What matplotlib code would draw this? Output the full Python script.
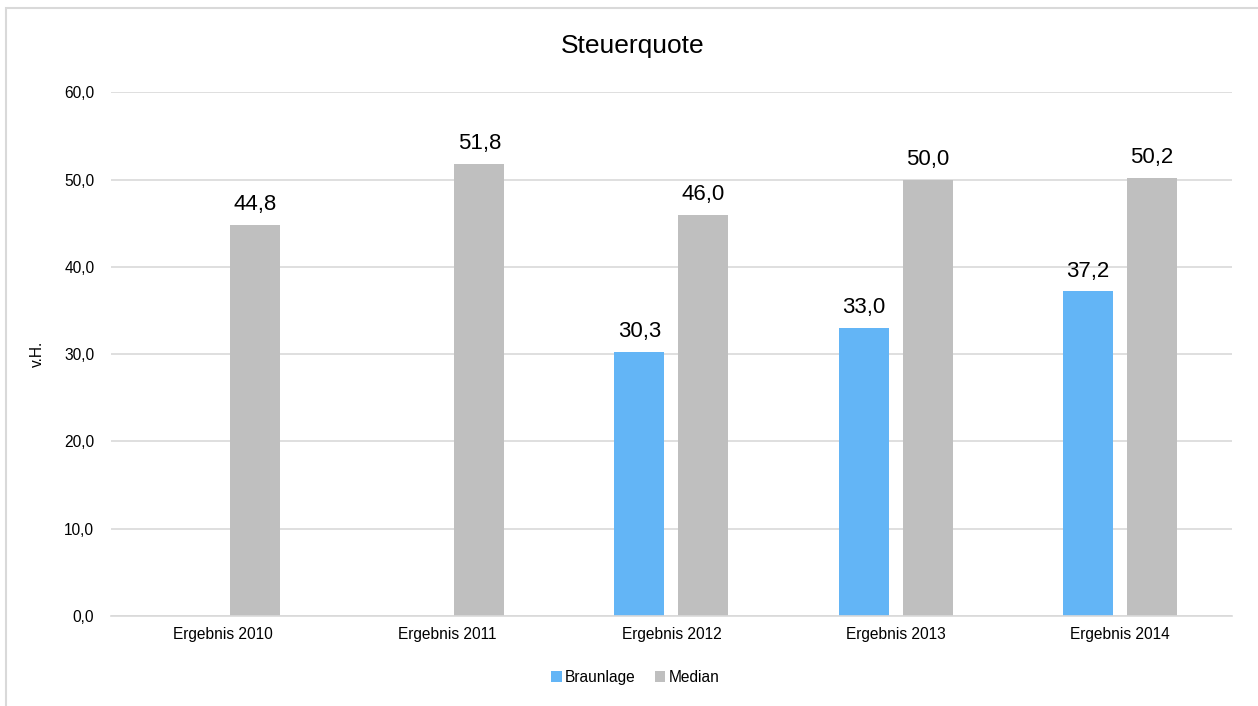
import matplotlib.pyplot as plt
import matplotlib.patches as mpatches
import numpy as np

plt.rcParams['font.family'] = ['Liberation Sans', 'DejaVu Sans']

categories = ['Ergebnis 2010', 'Ergebnis 2011', 'Ergebnis 2012', 'Ergebnis 2013', 'Ergebnis 2014']
braunlage = [np.nan, np.nan, 30.3, 33.0, 37.2]
median = [44.8, 51.8, 46.0, 50.0, 50.2]
yticks = [0, 10, 20, 30, 40, 50, 60]

blue = '#63b5f6'
gray = '#bfbfbf'

fig = plt.figure(figsize=(12.58, 7.06), dpi=100)
ax = fig.add_axes([0.0882, 0.1275, 0.891, 0.7415])

# outer frame of the chart area
fig.patches.append(mpatches.Rectangle((6 / 1258, -0.1), 1.2, 1 - 8 / 706 + 0.1,
                                      transform=fig.transFigure, fill=False,
                                      edgecolor='#d9d9d9', linewidth=1.5))

x = np.arange(len(categories))
w = 0.223
off = 0.143
b1 = ax.bar(x - off, braunlage, w, color=blue, label='Braunlage')
b2 = ax.bar(x + off, median, w, color=gray, label='Median')

for bars, vals in ((b1, braunlage), (b2, median)):
    for rect, v in zip(bars, vals):
        if np.isnan(v):
            continue
        ax.annotate(f'{v:.1f}'.replace('.', ','), (rect.get_x() + rect.get_width() / 2, v),
                    xytext=(0, 7), textcoords='offset points', ha='center', va='bottom',
                    fontsize=16, color='#000000')

ax.set_xlim(-0.5, len(categories) - 0.5)
ax.set_ylim(0, 60)
ax.set_yticks(yticks)
ax.set_yticklabels([f'{t:.1f}'.replace('.', ',') for t in yticks], fontsize=11.2)
ax.set_xticks(x)
ax.set_xticklabels(categories, fontsize=11.2)
ax.tick_params(axis='both', length=0, pad=8)
ax.tick_params(axis='y', pad=12)
ax.grid(axis='y', color='#d9d9d9', linewidth=1.2)
ax.set_axisbelow(True)
for s in ['top', 'right', 'left']:
    ax.spines[s].set_visible(False)
ax.spines['bottom'].set_color('#d9d9d9')
ax.spines['bottom'].set_linewidth(1.2)

ax.set_ylabel('v.H.', fontsize=11.2, labelpad=14)
fig.text(0.503, 0.935, 'Steuerquote', ha='center', va='center', fontsize=19)

fig.legend(handles=[b1, b2], loc='center', bbox_to_anchor=(0.505, 0.04), ncol=2,
           frameon=False, fontsize=11.2, handlelength=0.7, handleheight=0.7,
           handletextpad=0.2, columnspacing=1.2)

fig.savefig('out.png', dpi=100)
